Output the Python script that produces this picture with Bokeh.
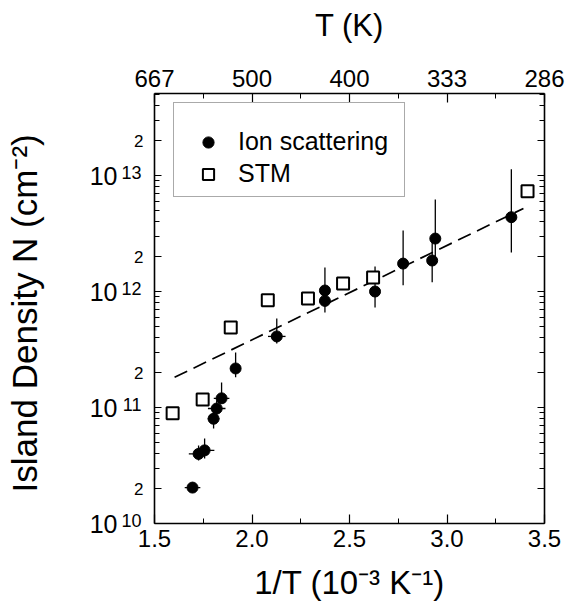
import math
import numpy as np
from bokeh.plotting import figure
from bokeh.models import (LinearAxis, LogAxis, FixedTicker, Range1d,
                          CustomJSTickFormatter, Legend, LegendItem)
from bokeh.embed import file_html
from bokeh.resources import INLINE

# ---------------- data ----------------
ion_inv_t = [1.695, 1.726, 1.757, 1.803, 1.819, 1.844, 1.916, 2.127,
             2.374, 2.374, 2.631, 2.775, 2.924, 2.940, 3.330]
ion_n = [2.04e10, 3.98e10, 4.27e10, 8.0e10, 9.8e10, 1.2e11, 2.17e11, 4.1e11,
         1.02e12, 8.3e11, 1.0e12, 1.74e12, 1.85e12, 2.86e12, 4.37e12]
ion_n_lo = [1.85e10, 3.49e10, 3.63e10, 6.59e10, 8.3e10, 1.08e11, 1.82e11, 3.56e11,
            1.0e12, 6.59e11, 7.28e11, 1.13e12, 1.20e12, 1.96e12, 2.17e12]
ion_n_hi = [2.25e10, 4.70e10, 5.41e10, 9.06e10, 1.15e11, 1.64e11, 2.98e11, 5.85e11,
            1.61e12, 8.3e11, 1.64e12, 3.36e12, 2.92e12, 6.21e12, 1.13e13]
ion_inv_t_err = [0.04, 0.05, 0.05, 0.03, 0.045, 0.04, 0.02, 0.045,
                 0.0, 0.0, 0.0, 0.0, 0.0, 0.0, 0.0]

stm_inv_t = [1.593, 1.747, 1.891, 2.081, 2.287, 2.467, 2.621, 3.413]
stm_n = [8.9e10, 1.17e11, 4.9e11, 8.4e11, 8.7e11, 1.17e12, 1.32e12, 7.3e12]

fit_inv_t = [1.603, 3.392]
fit_n = [1.82e11, 5.2e12]

x_ticks = [1.5, 2.0, 2.5, 3.0, 3.5]
x_minor = [1.75, 2.25, 2.75, 3.25]
bottom_labels = ["1.5", "2.0", "2.5", "3.0", "3.5"]
top_labels = ["667", "500", "400", "333", "286"]
y_decades = [1e10, 1e11, 1e12, 1e13]
y_decade_base = "10"
y_decade_exponents = ["10", "11", "12", "13"]
y_twos = [2e10, 2e11, 2e12, 2e13]
y_two_label = "2"
y_lo, y_hi = 1e10, 10 ** 13.707

FONT = "Liberation Sans"
SUP_SHIFT = 0.03   # exponent raised by this many decades (layout only)

# ---------------- figure ----------------
W, H = 568, 607
p = figure(width=W, height=H, x_range=Range1d(1.5, 3.5), y_range=Range1d(y_lo, y_hi),
           y_axis_type="log", output_backend="svg", toolbar_location=None,
           min_border_left=154, min_border_right=24, min_border_top=93, min_border_bottom=84)
p.grid.visible = False
p.outline_line_color = None
p.background_fill_color = "white"
p.border_fill_color = "white"

y_minor = [k * d for d in y_decades for k in range(3, 10) if k * d <= y_hi]

def lab_fmt(ticks, labels):
    return CustomJSTickFormatter(args=dict(t=ticks, l=labels), code="""
        const i = t.findIndex(v => Math.abs(v - tick) <= 1e-6 * Math.abs(v));
        return i >= 0 ? l[i] : '';
    """)

def style_axis(ax, major_in=9, minor_in=5, size="24px"):
    ax.axis_line_width = 1.6
    ax.axis_line_color = "black"
    ax.major_tick_in = major_in
    ax.major_tick_out = 0
    ax.minor_tick_in = minor_in
    ax.minor_tick_out = 0
    ax.major_tick_line_width = 1.2
    ax.minor_tick_line_width = 1.0
    ax.major_label_text_font = FONT
    ax.major_label_text_font_size = size
    ax.major_label_text_color = "black"
    ax.axis_label_text_font = FONT
    ax.axis_label_text_font_style = "normal"
    ax.axis_label_text_color = "black"

def label_only(ax):
    ax.axis_line_color = None
    ax.major_tick_line_color = None
    ax.minor_tick_line_color = None
    ax.major_tick_in = 0
    ax.major_tick_out = 0
    ax.minor_tick_in = 0
    ax.minor_tick_out = 0

# bottom
xb = p.xaxis[0]
xb.ticker = FixedTicker(ticks=x_ticks, minor_ticks=x_minor)
xb.formatter = lab_fmt(x_ticks, bottom_labels)
style_axis(xb)
xb.major_label_standoff = 6
xb.axis_label = "1/T (10\u207b\u00b3 K\u207b\u00b9)"
xb.axis_label_text_font_size = "33px"
xb.axis_label_standoff = 14

# top
xt = LinearAxis(ticker=FixedTicker(ticks=x_ticks, minor_ticks=x_minor),
                formatter=lab_fmt(x_ticks, top_labels))
style_axis(xt)
xt.major_label_standoff = 7
xt.axis_label = "T (K)"
xt.axis_label_text_font_size = "31px"
xt.axis_label_standoff = 24
p.add_layout(xt, "above")

# left: inner axis with ticks and the "2" labels
y_major = sorted(y_decades + y_twos)
y_major_labels = [y_two_label if v in y_twos else "" for v in y_major]
yl = p.yaxis[0]
yl.ticker = FixedTicker(ticks=y_major, minor_ticks=y_minor)
yl.formatter = lab_fmt(y_major, y_major_labels)
style_axis(yl, 7, 5, "17px")
yl.major_label_standoff = 11

# left: exponent labels (superscripts)
sup_ticks = [10 ** (math.log10(d) + SUP_SHIFT) for d in y_decades]
ye = LogAxis(ticker=FixedTicker(ticks=sup_ticks, minor_ticks=[]),
             formatter=lab_fmt(sup_ticks, y_decade_exponents))
style_axis(ye, 0, 0, "18px")
label_only(ye)
ye.major_label_standoff = -10
p.add_layout(ye, "left")

# left: "10" base labels, carries the axis title
yb = LogAxis(ticker=FixedTicker(ticks=y_decades, minor_ticks=[]),
             formatter=lab_fmt(y_decades, [y_decade_base] * len(y_decades)))
style_axis(yb, 0, 0, "25px")
label_only(yb)
yb.major_label_standoff = 1
yb.axis_label = "Island Density N  (cm\u207b\u00b2)"
yb.axis_label_text_font_size = "35px"
yb.axis_label_standoff = 43
p.add_layout(yb, "left")

# right
yr = LogAxis(ticker=FixedTicker(ticks=y_major, minor_ticks=y_minor),
             formatter=CustomJSTickFormatter(code="return '';"))
style_axis(yr, 7, 5)
yr.major_label_standoff = 0
p.add_layout(yr, "right")

# ---------------- data marks ----------------
xi = np.array(ion_inv_t)
xe = np.array(ion_inv_t_err)
p.segment(x0=xi, y0=ion_n_lo, x1=xi, y1=ion_n_hi, line_color="black", line_width=1.3)
p.segment(x0=xi - xe, y0=ion_n, x1=xi + xe, y1=ion_n, line_color="black", line_width=1.3)

p.line(fit_inv_t, fit_n, line_color="black", line_width=1.7, line_dash="14 7")

r_ion = p.scatter(ion_inv_t, ion_n, marker="circle", size=11,
                  fill_color="black", line_color="black")
r_stm = p.scatter(stm_inv_t, stm_n, marker="square", size=12,
                  fill_color="white", line_color="black", line_width=2)

legend = Legend(items=[LegendItem(label="Ion scattering", renderers=[r_ion]),
                       LegendItem(label="STM", renderers=[r_stm])],
                location=(19, 326), title=" ", title_text_font_size="12px",
                title_standoff=2, padding=8, spacing=3, margin=0,
                label_height=28, glyph_height=28, glyph_width=52, label_standoff=4,
                label_width=158, label_text_font=FONT, label_text_font_size="25px",
                label_text_color="black", border_line_color="#555555",
                border_line_width=1, background_fill_color="white",
                background_fill_alpha=1.0)
p.add_layout(legend)

open("out.html", "w").write(file_html(p, INLINE))
